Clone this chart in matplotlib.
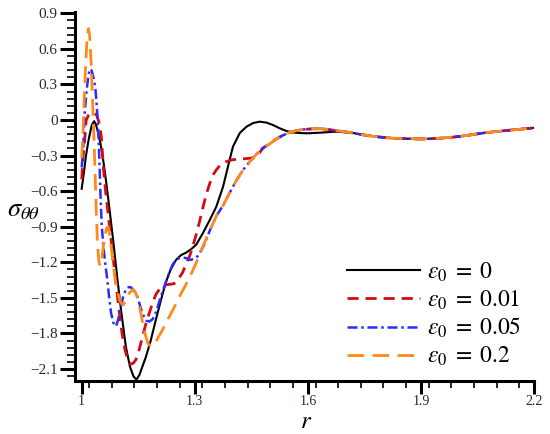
import matplotlib
matplotlib.use("Agg")
import matplotlib.pyplot as plt
from matplotlib.ticker import MultipleLocator, FixedLocator
import numpy as np

plt.rcParams['mathtext.fontset'] = 'stix'

# ---------------- data ----------------
# common tail shared by all curves
r_tail = [1.72, 1.74, 1.763, 1.785, 1.807, 1.83, 1.851, 1.877, 1.904, 1.93, 1.957,
          1.983, 2.01, 2.036, 2.063, 2.09, 2.116, 2.14, 2.16, 2.18, 2.2]
s_tail = [-0.11, -0.122, -0.133, -0.142, -0.149, -0.154, -0.157, -0.159, -0.16, -0.157, -0.152,
          -0.145, -0.135, -0.123, -0.11, -0.10, -0.092, -0.084, -0.078, -0.072, -0.066]

# orange, eps0 = 0.2 (also the trunk that blue and red join)
r_e020 = [1.000, 1.003, 1.007, 1.011, 1.015, 1.018, 1.021, 1.025, 1.029, 1.033, 1.036, 1.039,
          1.042, 1.045, 1.048, 1.052, 1.056, 1.061, 1.066, 1.070, 1.075, 1.082, 1.089, 1.095,
          1.102, 1.109, 1.117, 1.126, 1.135, 1.142, 1.148, 1.155, 1.161, 1.168, 1.175, 1.183,
          1.192, 1.200, 1.214, 1.232, 1.250, 1.264, 1.276, 1.287, 1.300, 1.313, 1.322, 1.340,
          1.357, 1.375, 1.393, 1.410, 1.428, 1.446, 1.463, 1.481, 1.499, 1.516, 1.533, 1.551,
          1.569, 1.587, 1.610, 1.631, 1.653, 1.675, 1.700]
s_e020 = [-0.32, -0.14, 0.20, 0.50, 0.72, 0.77, 0.72, 0.48, 0.15, -0.20, -0.50, -0.80,
          -1.05, -1.18, -1.23, -1.20, -1.10, -0.98, -0.91, -0.90, -0.98, -1.18, -1.35, -1.45,
          -1.53, -1.56, -1.53, -1.46, -1.43, -1.45, -1.50, -1.60, -1.70, -1.80, -1.88, -1.91,
          -1.89, -1.85, -1.77, -1.66, -1.55, -1.46, -1.39, -1.32, -1.23, -1.13, -1.06, -0.93,
          -0.81, -0.72, -0.61, -0.51, -0.42, -0.35, -0.29, -0.235, -0.20, -0.16, -0.13, -0.105,
          -0.09, -0.08, -0.075, -0.073, -0.08, -0.09, -0.10]

# blue, eps0 = 0.05 (own part before it joins the orange trunk)
r_e005 = [1.000, 1.004, 1.008, 1.013, 1.018, 1.022, 1.026, 1.031, 1.036, 1.040, 1.044, 1.047,
          1.050, 1.053, 1.057, 1.062, 1.068, 1.073, 1.078, 1.084, 1.091, 1.097, 1.104, 1.110,
          1.117, 1.124, 1.130, 1.139, 1.148, 1.155, 1.161, 1.170, 1.179, 1.188, 1.197, 1.205,
          1.214, 1.223, 1.232, 1.241, 1.250, 1.258, 1.267, 1.278, 1.289, 1.298, 1.307, 1.315,
          1.322]
s_e005 = [-0.40, -0.25, 0.06, 0.25, 0.38, 0.43, 0.42, 0.36, 0.28, 0.12, -0.10, -0.35,
          -0.65, -0.88, -1.05, -1.20, -1.35, -1.50, -1.63, -1.71, -1.74, -1.68, -1.57, -1.49,
          -1.43, -1.41, -1.41, -1.44, -1.49, -1.57, -1.63, -1.69, -1.70, -1.68, -1.62, -1.54,
          -1.45, -1.37, -1.29, -1.22, -1.18, -1.165, -1.16, -1.165, -1.18, -1.17, -1.15, -1.11,
          -1.07]

# red, eps0 = 0.01 (own part before it joins the trunk)
r_e001 = [1.000, 1.004, 1.008, 1.012, 1.018, 1.025, 1.032, 1.040, 1.046, 1.052, 1.058, 1.064,
          1.071, 1.080, 1.089, 1.098, 1.107, 1.115, 1.122, 1.130, 1.137, 1.144, 1.152, 1.161,
          1.170, 1.179, 1.188, 1.197, 1.210, 1.223, 1.235, 1.245, 1.256, 1.267, 1.276, 1.287,
          1.296, 1.304, 1.313, 1.322, 1.331, 1.340, 1.349, 1.357, 1.370, 1.384, 1.400, 1.419,
          1.437, 1.454, 1.466]
s_e001 = [-0.50, -0.30, -0.17, 0.00, 0.04, 0.06, 0.06, 0.04, -0.02, -0.14, -0.42, -0.62,
          -0.82, -1.07, -1.32, -1.58, -1.80, -1.94, -2.02, -2.06, -2.05, -2.02, -1.94, -1.83,
          -1.72, -1.63, -1.54, -1.47, -1.41, -1.39, -1.385, -1.38, -1.34, -1.29, -1.22, -1.14,
          -1.05, -0.96, -0.85, -0.73, -0.62, -0.53, -0.46, -0.42, -0.37, -0.35, -0.335, -0.33,
          -0.325, -0.32, -0.30]

# black, eps0 = 0 (own part before it joins the common tail)
r_e000 = [1.000, 1.006, 1.011, 1.016, 1.020, 1.027, 1.033, 1.038, 1.042, 1.050, 1.058, 1.066,
          1.074, 1.084, 1.095, 1.105, 1.117, 1.128, 1.137, 1.145, 1.153, 1.162, 1.170, 1.183,
          1.197, 1.210, 1.223, 1.236, 1.250, 1.263, 1.276, 1.290, 1.304, 1.322, 1.340, 1.357,
          1.375, 1.388, 1.401, 1.419, 1.437, 1.455, 1.472, 1.490, 1.507, 1.525, 1.543, 1.560,
          1.578, 1.600, 1.631, 1.675]
s_e000 = [-0.58, -0.44, -0.31, -0.21, -0.14, -0.04, -0.01, -0.04, -0.09, -0.20, -0.36, -0.55,
          -0.76, -1.03, -1.35, -1.62, -1.91, -2.08, -2.16, -2.19, -2.15, -2.07, -2.00, -1.86,
          -1.68, -1.52, -1.37, -1.26, -1.18, -1.14, -1.12, -1.09, -1.05, -0.95, -0.84, -0.73,
          -0.56, -0.39, -0.225, -0.11, -0.056, -0.025, -0.014, -0.022, -0.042, -0.07, -0.093, -0.105,
          -0.11, -0.112, -0.107, -0.098]

labels = [r'$\varepsilon_0\;=\;0$', r'$\varepsilon_0\;=\;0.01$',
          r'$\varepsilon_0\;=\;0.05$', r'$\varepsilon_0\;=\;0.2$']

x_ticks = [1.0, 1.3, 1.6, 1.9, 2.2]
x_ticklabels = ['1', '1.3', '1.6', '1.9', '2.2']
y_ticks = [-2.1, -1.8, -1.5, -1.2, -0.9, -0.6, -0.3, 0.0, 0.3, 0.6, 0.9]
y_ticklabels = ['\u22122.1', '\u22121.8', '\u22121.5', '\u22121.2', '\u22120.9', '\u22120.6',
                '\u22120.3', '0', '0.3', '0.6', '0.9']

# ---------------- build full series ----------------
r_or = np.array(r_e020 + r_tail)
s_or = np.array(s_e020 + s_tail)

def join(r_own, s_own, r_trunk, s_trunk):
    r_own = np.array(r_own); s_own = np.array(s_own)
    m = r_trunk > r_own[-1] + 1e-9
    return np.concatenate([r_own, r_trunk[m]]), np.concatenate([s_own, s_trunk[m]])

r_bl, s_bl = join(r_e005, s_e005, r_or, s_or)
r_rd, s_rd = join(r_e001, s_e001, r_or, s_or)
r_bk, s_bk = join(r_e000, s_e000, np.array(r_tail), np.array(s_tail))

# ---------------- figure ----------------
fig = plt.figure(figsize=(5.5, 4.34), dpi=100)
ax = fig.add_axes([0.1355, 0.1221, 0.836, 0.8503])

ax.plot(r_bk, s_bk, color='black', lw=1.5, ls='-', label=labels[0], zorder=3)
ax.plot(r_rd, s_rd, color='#d40a14', lw=2.0, ls=(0, (4, 2.5)), label=labels[1], zorder=4)
ax.plot(r_bl, s_bl, color='#2b2bff', lw=1.8, ls=(0, (4, 1.5, 1, 1.5)), label=labels[2], zorder=5)
ax.plot(r_or, s_or, color='#ff8a1c', lw=2.0, ls=(0, (6, 3)), label=labels[3], zorder=6)

ax.set_xlim(0.981, 2.2)
ax.set_ylim(-2.201, 0.911)

for sp in ['top', 'right']:
    ax.spines[sp].set_visible(False)
for sp in ['left', 'bottom']:
    ax.spines[sp].set_linewidth(2.2)

ax.xaxis.set_major_locator(FixedLocator(x_ticks))
ax.set_xticklabels(x_ticklabels)
ax.yaxis.set_major_locator(FixedLocator(y_ticks))
ax.set_yticklabels(y_ticklabels)
ax.xaxis.set_minor_locator(MultipleLocator(0.06))
ax.yaxis.set_minor_locator(MultipleLocator(0.06))

tick_color = '#1e2a44'
ax.tick_params(axis='y', which='major', direction='out', length=11, width=2.2, pad=1,
               labelsize=11, labelcolor=tick_color)
ax.tick_params(axis='y', which='minor', direction='out', length=6, width=1.2)
ax.tick_params(axis='x', which='major', direction='out', length=9, width=2.2, pad=1,
               labelsize=10, labelcolor=tick_color)
ax.tick_params(axis='x', which='minor', direction='out', length=5, width=1.2)
for lab in ax.get_xticklabels() + ax.get_yticklabels():
    lab.set_fontfamily('Liberation Serif')

fig.text(7 / 550, 1 - 209 / 434, r'$\sigma_{\theta\theta}$', fontsize=19,
         ha='left', va='center')
fig.text(306 / 550, 1 - 428 / 434, r'$r$', fontsize=18, ha='center', va='baseline')

leg = ax.legend(loc='upper left', bbox_to_anchor=(0.593, 0.33), frameon=False,
                fontsize=17, handlelength=3.1, handletextpad=0.3, labelspacing=0.17,
                borderaxespad=0.0, borderpad=0.0)

fig.savefig('out.png', dpi=100)
